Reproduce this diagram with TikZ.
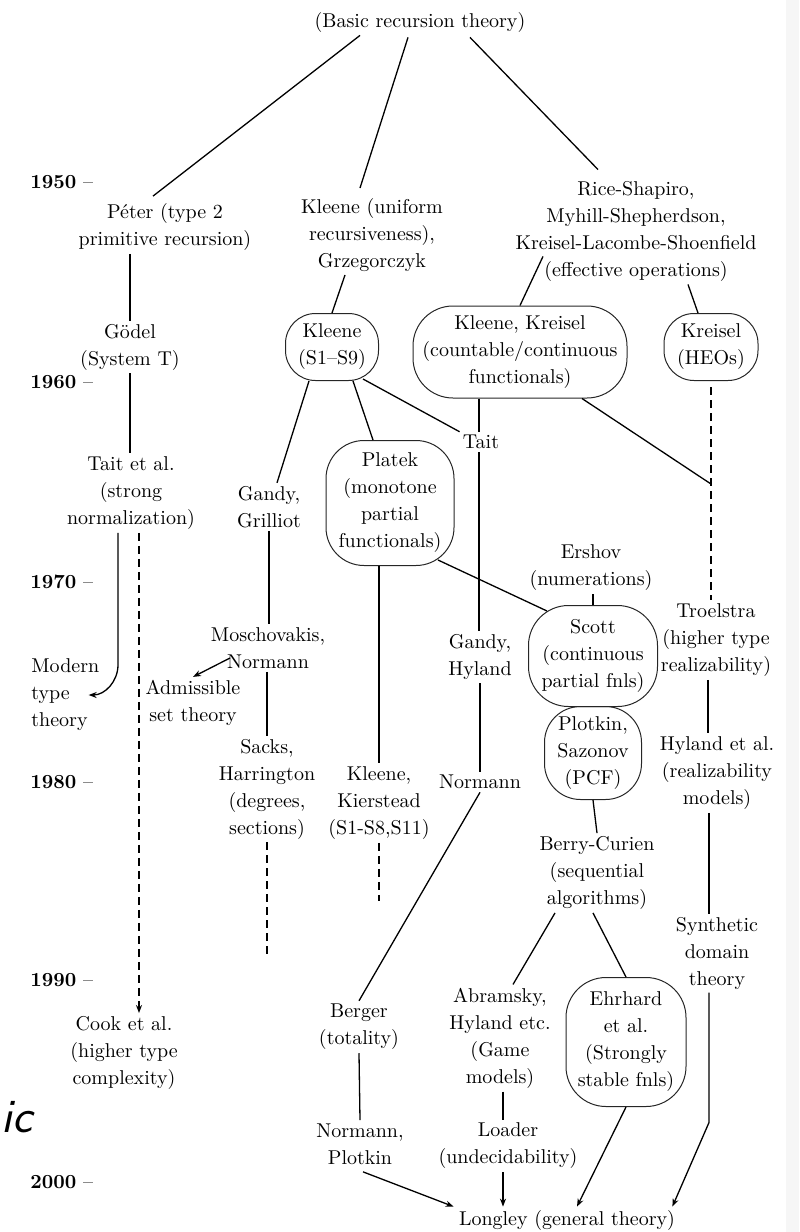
\documentclass[tikz,border=0pt]{standalone}
\usetikzlibrary{calc,arrows.meta}
\begin{document}
\begin{tikzpicture}[x=0.5pt,y=-0.5pt,
 lbl/.style={align=center,font=\fontsize{10}{13.5}\selectfont,inner sep=1.5pt},
 rbox/.style={lbl,draw=black!85,line width=0.5pt,rounded corners=#1,inner sep=0pt},
 yr/.style={anchor=west,font=\fontsize{10}{12}\selectfont,inner sep=1pt},
 conn/.style={line width=0.65pt},
 dconn/.style={conn,dash pattern=on 4pt off 2.5pt},
 arr/.style={conn,-{Stealth[length=4pt,width=3pt]}},
 darr/.style={dconn,-{Stealth[length=4pt,width=3pt]}},
]
\useasboundingbox (0,0) rectangle (799,1232);
\fill[gray!7] (786,0) rectangle (799,1232);

% year labels
\node[yr] (y50) at (28,182) {\textbf{1950} --};
\node[yr] (y60) at (28,382) {\textbf{1960} --};
\node[yr] (y70) at (28,582) {\textbf{1970} --};
\node[yr] (y80) at (28,782) {\textbf{1980} --};
\node[yr] (y90) at (28,980) {\textbf{1990} --};
\node[yr] (y00) at (28,1182) {\textbf{2000} --};

\node[anchor=base east,inner sep=0pt,font=\fontsize{24}{24}\selectfont\sffamily\itshape] (ic) at (33,1132) {ic};

% text nodes
\node[lbl] (basic) at (420,22) {(Basic recursion theory)};
\node[lbl] (peter) at (165,227) {P\'eter (type 2\\primitive recursion)};
\node[lbl] (kleeneU) at (372,235) {Kleene (uniform\\recursiveness),\\Grzegorczyk};
\node[lbl] (rice) at (636,231) {Rice-Shapiro,\\Myhill-Shepherdson,\\Kreisel-Lacombe-Shoenfield\\(effective operations)};
\node[lbl] (godel) at (130,347) {G\"odel\\(System T)};
\node[lbl] (taital) at (131,493) {Tait et al.\\(strong\\normalization)};
\node[lbl] (gg) at (269,507) {Gandy,\\Grilliot};
\node[lbl] (tait) at (481,442) {Tait};
\node[lbl] (ershov) at (591,568) {Ershov\\(numerations)};
\node[lbl] (troel) at (716,640) {Troelstra\\(higher type\\realizability)};
\node[lbl] (gh) at (480,657) {Gandy,\\Hyland};
\node[lbl,align=left,anchor=west] (modern) at (28,695) {Modern\\type\\theory};
\node[lbl] (mosch) at (268,648) {Moschovakis,\\Normann};
\node[lbl] (adm) at (193,703) {Admissible\\set theory};
\node[lbl] (sacks) at (267,789) {Sacks,\\Harrington\\(degrees,\\sections)};
\node[lbl] (kkier) at (379,803) {Kleene,\\Kierstead\\(S1-S8,S11)};
\node[lbl] (norm1) at (480,782) {Normann};
\node[lbl] (hyl) at (717,773) {Hyland et al.\\(realizability\\models)};
\node[lbl] (berry) at (597,873) {Berry-Curien\\(sequential\\algorithms)};
\node[lbl] (synth) at (717,953) {Synthetic\\domain\\theory};
\node[lbl] (cook) at (124,1053) {Cook et al.\\(higher type\\complexity)};
\node[lbl] (berger) at (359,1027) {Berger\\(totality)};
\node[lbl] (abr) at (500,1038) {Abramsky,\\Hyland etc.\\(Game\\models)};
\node[lbl] (normp) at (360,1144) {Normann,\\Plotkin};
\node[lbl] (loader) at (508,1146) {Loader\\(undecidability)};
\node[lbl] (longley) at (567,1220) {Longley (general theory)};

% boxed nodes
\node[rbox=15pt,minimum width=46.5pt,minimum height=33.5pt] (kS9) at (332,347) {Kleene\\(S1--S9)};
\node[rbox=20pt,minimum width=107pt,minimum height=46pt] (kk) at (520,352) {Kleene, Kreisel\\(countable/continuous\\functionals)};
\node[rbox=15pt,minimum width=47pt,minimum height=33.5pt] (heo) at (711,347) {Kreisel\\(HEOs)};
\node[rbox=19pt,minimum width=64pt,minimum height=62.5pt] (platek) at (390,503) {Platek\\(monotone\\partial\\functionals)};
\node[rbox=20pt,minimum width=64.5pt,minimum height=50.5pt] (scott) at (593,656) {Scott\\(continuous\\partial fnls)};
\node[rbox=18pt,minimum width=48.5pt,minimum height=46.5pt] (plotkin) at (593,753) {Plotkin,\\Sazonov\\(PCF)};
\node[rbox=20pt,minimum width=60pt,minimum height=64.5pt] (ehr) at (626,1042) {Ehrhard\\et al.\\(Strongly\\stable fnls)};

\coordinate (j) at ($(heo.south)!0.47!(heo.south |- troel.north)$);

% connectors
\draw[conn] ($(basic.south)+(-60,0)$) -- ($(peter.north)+(-12,-4)$);
\draw[conn] ($(basic.south)+(-12,2)$) -- ($(kleeneU.north)+(-12,-7)$);
\draw[conn] ($(basic.south)+(50,2)$) -- ($(rice.north)+(-38,-8)$);
\draw[conn] (godel.north |- peter.south) -- (godel.north);
\draw[conn] (godel.south) -- (godel.south |- taital.north);
\draw[conn] ($(kleeneU.south)+(-27,0)$) -- (kS9.north);
\draw[conn] ($(rice.south)+(-93,-28)$) -- (kk.north);
\draw[conn] ($(rice.south)+(52,0)$) -- ($(heo.north)+(-13,0)$);
\draw[conn] ($(kS9.south)+(-23,0)$) -- ($(gg.north)+(8,0)$);
\draw[conn] ($(kS9.south)+(21,0)$) -- ($(platek.north)+(-17,0)$);
\draw[conn] ($(kS9.south)+(31,-2)$) -- (tait.north west);
\draw[conn] ([xshift=-1pt]tait.north |- kk.south) -- ([xshift=-1pt]tait.north);
\draw[conn] ([xshift=-1pt]tait.south) -- ([xshift=-1pt]tait.south |- gh.north);
\draw[conn] ($(kk.south)+(62,0)$) -- (j);
\draw[dconn] ([yshift=-3pt]heo.south) -- (heo.south |- troel.north);
\draw[conn] ($(platek.south)+(48,-6)$) -- ($(scott.north)+(-46,6)$);
\draw[conn] (kkier.north |- platek.south) -- (kkier.north);
\draw[dconn] (kkier.south) -- ++(0,58);
\draw[conn] (gg.south) -- (gg.south |- mosch.north);
\draw[arr] ($(mosch.center)+(-38,10)$) -- (adm.north);
\draw[conn] (sacks.north |- mosch.south) -- (sacks.north);
\draw[dconn] (sacks.south) -- ++(0,112);
\draw[arr] ([xshift=-6.5pt]taital.south) -- ++(0,132) to[out=-90,in=0] ([xshift=-7pt]modern.east);
\draw[darr] ([xshift=4pt]taital.south) -- ([xshift=4pt]taital.south |- cook.north);
\draw[conn] (scott.north |- ershov.south) -- (scott.north);
\draw[conn] ([xshift=-4pt]troel.south) -- ([xshift=-4pt]troel.south |- hyl.north);
\draw[conn] ([xshift=-4pt]hyl.south) -- ([xshift=-4pt]hyl.south |- synth.north);
\draw[arr] ([xshift=-4pt]synth.south) -- ++(0,130) -- ([xshift=-3pt]longley.north east);
\draw[conn] (plotkin.south) -- (berry.north);
\draw[conn] (gh.south) -- (norm1.north);
\draw[conn] (norm1.south) -- (berger.north);
\draw[conn] ($(berry.south)+(-42,0)$) -- ($(abr.north)+(13,0)$);
\draw[conn] ($(berry.south)+(-4,0)$) -- (ehr.north);
\draw[conn] (berger.south) -- (normp.north);
\draw[conn] ([xshift=1.5pt]abr.south) -- ([xshift=1.5pt]abr.south |- loader.north);
\draw[arr] ([xshift=-2.5pt]loader.south) -- ([xshift=-2.5pt]loader.south |- longley.north);
\draw[arr] (ehr.south) -- ($(longley.north)+(10,0)$);
\draw[arr] ($(normp.south)+(3,4)$) -- ([xshift=-1pt]longley.north west);
\end{tikzpicture}
\end{document}
